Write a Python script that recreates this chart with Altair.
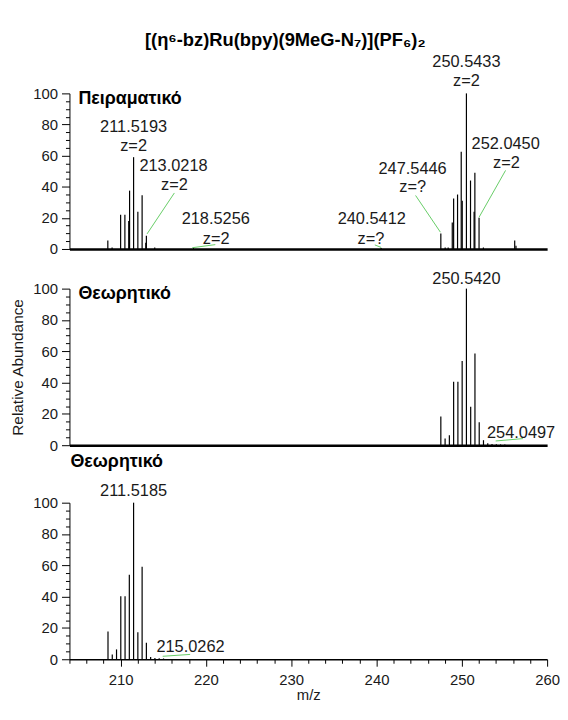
import altair as alt
import pandas as pd

# ---------------- data ----------------
# Top panel: experimental spectrum
exp_mz = [208.50, 209.00, 210.00, 210.50, 210.95, 211.05, 211.52, 212.02, 212.52, 212.95,
          213.02, 214.00, 218.53, 240.54, 247.54, 248.05, 248.40, 248.88, 249.04, 249.50,
          249.93, 250.05, 250.54, 251.02, 251.44, 251.53, 252.02, 252.53, 256.20, 256.35]
exp_ab = [5.5, 1.0, 22.0, 22.0, 18.0, 37.5, 59.0, 24.0, 34.5, 4.0,
          8.5, 1.0, 0.6, 0.6, 10.0, 1.0, 1.0, 17.0, 32.5, 35.0,
          62.5, 31.0, 100.0, 44.0, 24.0, 49.0, 20.0, 1.0, 5.5, 2.0]

# Middle panel: theoretical pattern around 250.5420
th1_mz = [247.54, 248.04, 248.54, 249.04, 249.54, 250.04, 250.54, 251.04, 251.54, 252.04,
          252.54, 253.04, 253.54, 254.05, 254.54, 255.04]
th1_ab = [18.3, 4.2, 6.3, 40.6, 40.6, 53.7, 100.0, 24.6, 58.5, 14.7,
          3.2, 1.2, 0.8, 0.6, 0.5, 0.4]

# Bottom panel: theoretical pattern around 211.5185
th2_mz = [208.52, 209.02, 209.52, 210.02, 210.52, 211.02, 211.52, 212.02, 212.52, 213.02,
          213.52, 214.02, 214.52, 215.03]
th2_ab = [17.8, 3.1, 6.3, 40.3, 40.3, 54.0, 100.0, 17.2, 59.1, 10.5,
          1.5, 0.8, 0.6, 0.5]

# annotation labels: (m/z position, height, text)
top_lab_mz = [211.52, 211.52, 216.20, 216.30, 221.15, 221.20, 239.44, 239.35,
              244.23, 244.25, 250.54, 250.54, 255.14, 255.24]
top_lab_y = [78.3, 66.2, 53.5, 40.8, 19.3, 6.6, 19.3, 6.6,
             51.1, 39.5, 120.4, 108.0, 67.5, 55.4]
top_lab_txt = ["211.5193", "z=2", "213.0218", "z=2", "218.5256", "z=2", "240.5412", "z=?",
               "247.5446", "z=?", "250.5433", "z=2", "252.0450", "z=2"]

mid_lab_mz = [250.54, 256.95]
mid_lab_y = [105.9, 7.6]
mid_lab_txt = ["250.5420", "254.0497"]

bot_lab_mz = [211.52, 218.19]
bot_lab_y = [107.5, 7.5]
bot_lab_txt = ["211.5185", "215.0262"]

# panel headings
head_mz = [205.05, 205.05, 204.12]
head_y = [96.2, 96.8, 125.8]
head_txt = ["Πειραματικό", "Θεωρητικό", "Θεωρητικό"]

# green leader lines (x1, y1, x2, y2)
top_ld_x1 = [216.3, 218.4, 239.8, 244.58, 255.13]
top_ld_y1 = [36.0, 0.8, 2.6, 34.4, 50.5]
top_ld_x2 = [213.1, 221.1, 240.55, 247.49, 252.02]
top_ld_y2 = [9.7, 2.8, 1.0, 10.8, 20.4]
mid_ld = ([253.97], [2.7], [257.17], [4.2])
bot_ld = ([214.93], [1.9], [218.15], [3.1])

TITLE = "[(η⁶-bz)Ru(bpy)(9MeG-N₇)](PF₆)₂"

# ---------------- styling ----------------
FONT = "Liberation Sans"
W = 482
XDOM = [204, 260]
GREEN = "#66cc66"
TXT = "#1a1a1a"

xscale = alt.Scale(domain=XDOM, nice=False, zero=False)


def y_axis(title=None):
    kw = dict(
        values=list(range(0, 101, 5)),
        labelExpr="datum.value % 20 == 0 ? datum.label : ''",
        tickSize=alt.condition("datum.value % 20 == 0", alt.value(8), alt.value(4)),
        labelOverlap=False, labelFlush=False, grid=False, domainColor="black",
        tickColor="black", labelColor=TXT, labelFont=FONT, labelFontSize=15,
        labelPadding=4, domainWidth=1, tickWidth=1,
    )
    if title:
        kw.update(title=title, titleFont=FONT, titleFontSize=15.5, titleFontWeight="normal",
                  titleColor=TXT, titlePadding=7)
    else:
        kw.update(title=None)
    return alt.Axis(**kw)


def x_axis(bottom):
    if bottom:
        return alt.Axis(
            values=list(range(204, 261, 2)),
            labelExpr="datum.value % 10 == 0 ? datum.label : ''",
            tickSize=alt.condition("datum.value % 10 == 0", alt.value(7), alt.value(4)),
            labelOverlap=False, labelFlush=False, grid=False, domainColor="black",
            tickColor="black", labelColor=TXT, labelFont=FONT, labelFontSize=15,
            labelPadding=6, domainWidth=1.5, tickWidth=1,
            title="m/z", titleFont=FONT, titleFontSize=15, titleFontWeight="normal",
            titleColor=TXT, titlePadding=1,
        )
    return alt.Axis(ticks=False, labels=False, title=None, grid=False,
                    domainColor="black", domainWidth=2.5)


def panel(mz, ab, lab, ld, head_idx, bottom=False, ytitle=None, height=158, yrange=None):
    ysc = alt.Scale(domain=[0, 100], nice=False, range=yrange) if yrange else \
        alt.Scale(domain=[0, 100], nice=False)
    xa = x_axis(bottom)
    ya = y_axis(ytitle)
    df = pd.DataFrame({"mz": mz, "ab": ab})
    bars = alt.Chart(df).mark_rule(color="black", strokeWidth=1.2).encode(
        x=alt.X("mz:Q", scale=xscale, axis=xa),
        y=alt.Y("ab:Q", scale=ysc, axis=ya),
        y2=alt.datum(0),
    )
    ldf = pd.DataFrame({"x1": ld[0], "y1": ld[1], "x2": ld[2], "y2": ld[3]})
    leaders = alt.Chart(ldf).mark_rule(color=GREEN, strokeWidth=1).encode(
        x=alt.X("x1:Q", scale=xscale, axis=xa), y=alt.Y("y1:Q", scale=ysc, axis=ya),
        x2="x2:Q", y2="y2:Q",
    )
    tdf = pd.DataFrame({"mz": lab[0], "y": lab[1], "t": lab[2]})
    texts = alt.Chart(tdf).mark_text(font=FONT, fontSize=16.5, color=TXT, align="center",
                                     baseline="middle").encode(
        x=alt.X("mz:Q", scale=xscale, axis=xa), y=alt.Y("y:Q", scale=ysc, axis=ya),
        text="t:N")
    hdf = pd.DataFrame({"mz": [head_mz[head_idx]], "y": [head_y[head_idx]],
                        "t": [head_txt[head_idx]]})
    head = alt.Chart(hdf).mark_text(font=FONT, fontSize=18, fontWeight="bold", color="black",
                                    align="left", baseline="middle").encode(
        x=alt.X("mz:Q", scale=xscale, axis=xa), y=alt.Y("y:Q", scale=ysc, axis=ya),
        text="t:N")
    return alt.layer(bars, leaders, texts, head).properties(width=W, height=height)


top = panel(exp_mz, exp_ab, (top_lab_mz, top_lab_y, top_lab_txt),
            (top_ld_x1, top_ld_y1, top_ld_x2, top_ld_y2), 0, height=157)
mid = panel(th1_mz, th1_ab, (mid_lab_mz, mid_lab_y, mid_lab_txt), mid_ld, 1,
            ytitle="Relative Abundance", height=158)
bot = panel(th2_mz, th2_ab, (bot_lab_mz, bot_lab_y, bot_lab_txt), bot_ld, 2,
            bottom=True, height=176, yrange=[176, 18])

chart = alt.vconcat(top, mid, bot, spacing=40, bounds="flush").properties(
    title=alt.TitleParams(TITLE, font=FONT, fontSize=18.5, fontWeight="bold", color="black",
                          anchor="middle", offset=4),
    padding={"left": 2, "top": 20, "right": 0, "bottom": 0},
).configure_view(stroke=None)

chart.save("out.html", embed_options={"renderer": "svg", "actions": False})
